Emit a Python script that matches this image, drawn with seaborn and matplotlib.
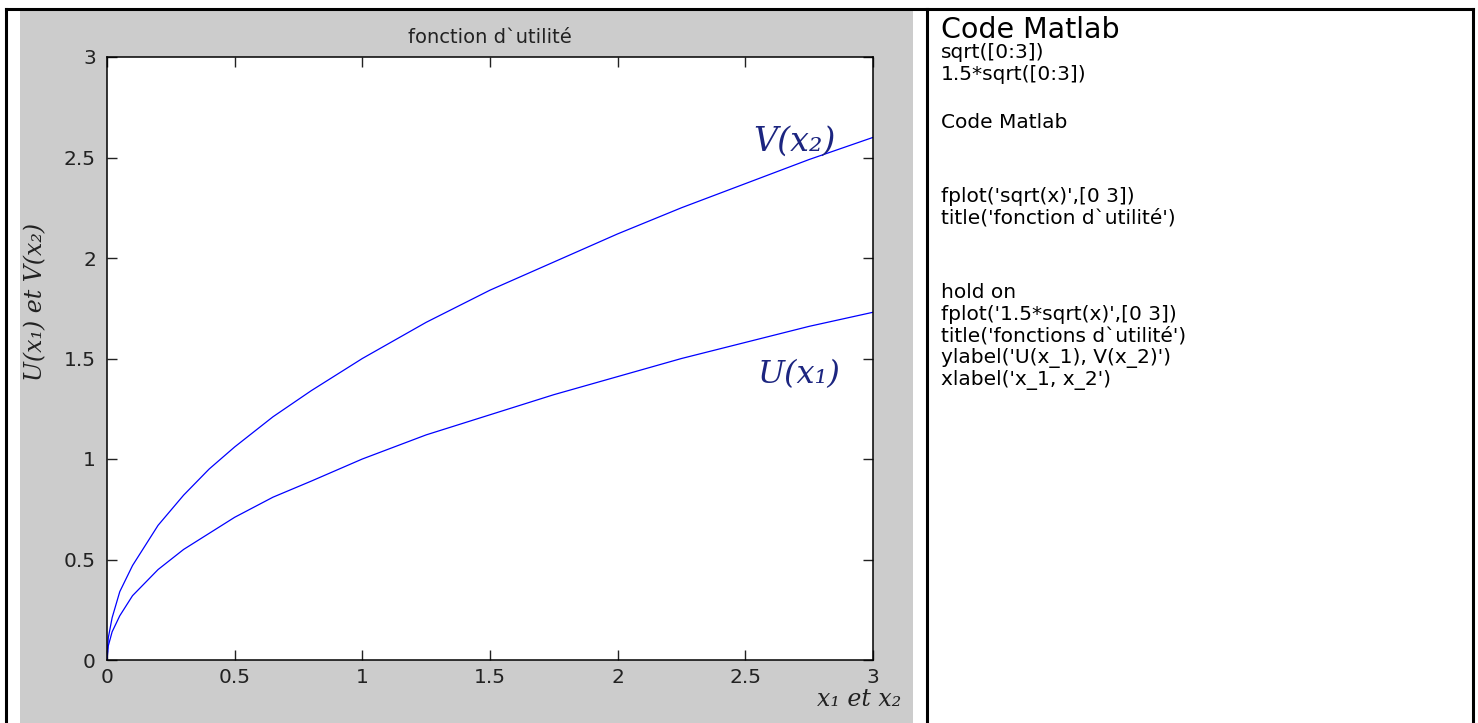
import matplotlib
matplotlib.use("Agg")
import matplotlib.pyplot as plt
from matplotlib.patches import Rectangle
from matplotlib.lines import Line2D
import seaborn as sns
import pandas as pd

# values (fplot samples of the two utility curves)
x_vals = [0, 0.005, 0.02, 0.05, 0.1, 0.2, 0.3, 0.4, 0.5, 0.65, 0.8, 1.0,
          1.25, 1.5, 1.75, 2.0, 2.25, 2.5, 2.75, 3.0]
u_vals = [0, 0.07, 0.14, 0.22, 0.32, 0.45, 0.55, 0.63, 0.71, 0.81, 0.89, 1.0,
          1.12, 1.22, 1.32, 1.41, 1.5, 1.58, 1.66, 1.73]
v_vals = [0, 0.11, 0.21, 0.34, 0.47, 0.67, 0.82, 0.95, 1.06, 1.21, 1.34, 1.5,
          1.68, 1.84, 1.98, 2.12, 2.25, 2.37, 2.49, 2.6]

tick_vals = [0, 0.5, 1, 1.5, 2, 2.5, 3]
tick_labels = ["0", "0.5", "1", "1.5", "2", "2.5", "3"]

code_lines = [
    "sqrt([0:3])",
    "1.5*sqrt([0:3])",
    "Code Matlab",
    "fplot('sqrt(x)',[0 3])",
    "title('fonction d`utilité')",
    "hold on",
    "fplot('1.5*sqrt(x)',[0 3])",
    "title('fonctions d`utilité')",
    "ylabel('U(x_1), V(x_2)')",
    "xlabel('x_1, x_2')",
]
# vertical pixel position of each code line (blank lines in between)
code_y = [52, 74, 122, 196, 218, 292, 314, 336, 358, 380]

sns.set_style("ticks")
plt.rcParams["font.family"] = ["DejaVu Sans"]

W, H = 1478, 723
fig = plt.figure(figsize=(W / 100, H / 100), dpi=100)
fig.patch.set_facecolor("white")

# grey matlab figure background
fig.patches.append(Rectangle((20 / W, 0), (913 - 20) / W, 1 - 10 / H,
                             transform=fig.transFigure, facecolor="#cccccc",
                             edgecolor="none", zorder=-10))

# table borders
for xs, ys in [((6 / W, 6 / W), (0, 1 - 9 / H)),
               ((927 / W, 927 / W), (0, 1 - 9 / H)),
               ((1473 / W, 1473 / W), (0, 1 - 9 / H)),
               ((6 / W, 1473 / W), (1 - 9 / H, 1 - 9 / H))]:
    fig.lines.append(Line2D(xs, ys, transform=fig.transFigure, color="black",
                            linewidth=2.2, solid_capstyle="projecting"))

ax = fig.add_axes([107 / W, 1 - 660 / H, (873 - 107) / W, (660 - 57) / H])
ax.set_zorder(5)
ax.set_facecolor("white")

df = pd.DataFrame({"x": x_vals, "U": u_vals, "V": v_vals})
sns.lineplot(data=df, x="x", y="U", ax=ax, color="#0000ff", linewidth=0.9,
             sort=False, estimator=None)
sns.lineplot(data=df, x="x", y="V", ax=ax, color="#0000ff", linewidth=0.9,
             sort=False, estimator=None)

ax.set_xlim(0, 3)
ax.set_ylim(0, 3)
ax.set_xticks(tick_vals)
ax.set_xticklabels(tick_labels)
ax.set_yticks(tick_vals)
ax.set_yticklabels(tick_labels)
ax.tick_params(direction="in", length=7, width=1, top=True, right=True,
               labelsize=14.5, colors="#222222")
ax.tick_params(axis="x", pad=6)
ax.tick_params(axis="y", pad=8)
for sp in ax.spines.values():
    sp.set_visible(True)
    sp.set_color("black")
    sp.set_linewidth(1.1)
ax.set_xlabel("")
ax.set_ylabel("")
ax.set_title("fonction d`utilité", fontsize=14, color="#222222", pad=10)

# handwritten annotations
hand = dict(family="DejaVu Serif", style="italic", color="#1c2580")
ax.text(2.53, 2.58, "V(x₂)", fontsize=24, ha="left", va="center", **hand)
ax.text(2.55, 1.42, "U(x₁)", fontsize=23, ha="left", va="center", **hand)
fig.text(36 / W, 1 - 302 / H, "U(x₁) et V(x₂)", rotation=90, fontsize=17,
         ha="center", va="center", family="DejaVu Serif", style="italic",
         color="#222222", zorder=6)
fig.text(901 / W, 1 - 700 / H, "x₁ et x₂", fontsize=17, ha="right",
         va="center", family="DejaVu Serif", style="italic", color="#222222",
         zorder=6)

# right hand cell: the matlab code
fig.text(941 / W, 1 - 30 / H, "Code Matlab", fontsize=20.5, ha="left",
         va="center", color="black")
for line, yp in zip(code_lines, code_y):
    fig.text(941 / W, 1 - yp / H, line, fontsize=14.5, ha="left",
             va="center", color="black")

fig.savefig("out.png", dpi=100)
